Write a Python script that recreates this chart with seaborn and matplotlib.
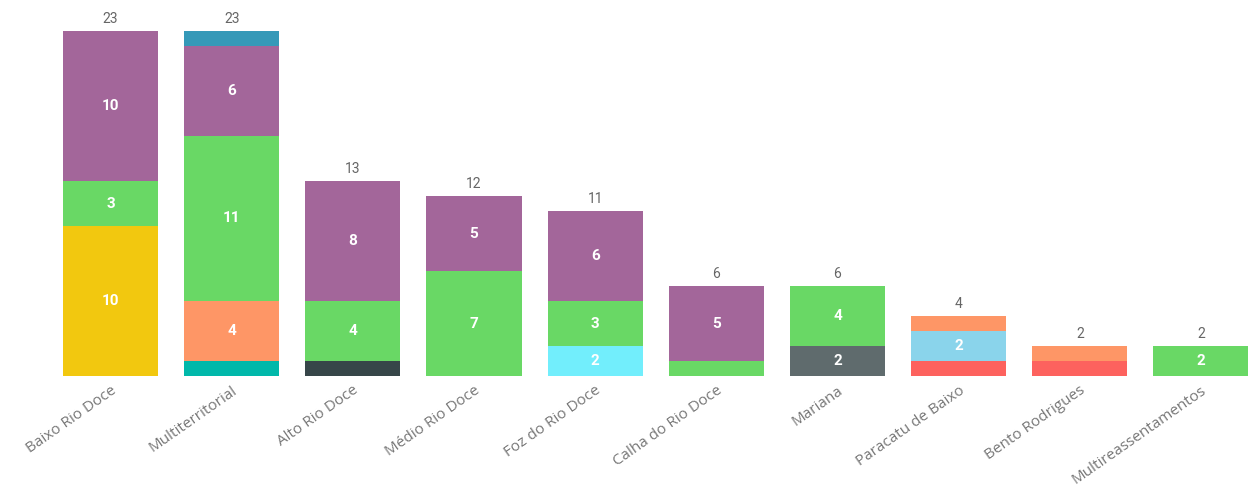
import numpy as np
import matplotlib
matplotlib.use("Agg")
import matplotlib.pyplot as plt
import seaborn as sns

# data
categories = ["Baixo Rio Doce", "Multiterritorial", "Alto Rio Doce", "Médio Rio Doce",
              "Foz do Rio Doce", "Calha do Rio Doce", "Mariana", "Paracatu de Baixo",
              "Bento Rodrigues", "Multireassentamentos"]

# stacked series, bottom to top
teal      = [0, 1, 0, 0, 0, 0, 0, 0, 0, 0]
dark      = [0, 0, 1, 0, 0, 0, 0, 0, 0, 0]
yellow    = [10, 0, 0, 0, 0, 0, 0, 0, 0, 0]
cyan      = [0, 0, 0, 0, 2, 0, 0, 0, 0, 0]
gray      = [0, 0, 0, 0, 0, 0, 2, 0, 0, 0]
red       = [0, 0, 0, 0, 0, 0, 0, 1, 1, 0]
lightblue = [0, 0, 0, 0, 0, 0, 0, 2, 0, 0]
orange    = [0, 4, 0, 0, 0, 0, 0, 1, 1, 0]
green     = [3, 11, 4, 7, 3, 1, 4, 0, 0, 2]
purple    = [10, 6, 8, 5, 6, 5, 0, 0, 0, 0]
blue      = [0, 1, 0, 0, 0, 0, 0, 0, 0, 0]

series = [teal, dark, yellow, cyan, gray, red, lightblue, orange, green, purple, blue]
colors = ["#01B8AA", "#374649", "#F2C80F", "#72EEFC", "#5F6B6D", "#FD625E",
          "#8AD4EB", "#FE9666", "#69D865", "#A3669A", "#3599B8"]

sns.set_style("white")

fig = plt.figure(figsize=(12.53, 4.86), dpi=100)
ax = fig.add_axes([50 / 1253, 110 / 486, 1203 / 1253, 367.5 / 486])

vals = np.array(series, dtype=float)
cum = vals.cumsum(axis=0)

# draw cumulative tops from the top series down so they overlap into stacks
for i in range(len(series) - 1, -1, -1):
    sns.barplot(x=categories, y=cum[i], color=colors[i], width=0.785,
                saturation=1, linewidth=0, ax=ax, order=categories)

bottoms = cum - vals
for i in range(len(series)):
    for j in range(len(categories)):
        v = vals[i, j]
        if v >= 2:
            ax.text(j, bottoms[i, j] + v / 2, f"{int(v)}", ha="center", va="center",
                    color="white", fontsize=11, fontweight="bold", family="Roboto")

totals = cum[-1]
for j, t in enumerate(totals):
    ax.text(j, t + 0.35, f"{int(t)}", ha="center", va="bottom",
            color="#666666", fontsize=10, family="Roboto")

ax.set_xlim(-0.5, 9.43)
ax.set_ylim(0, 24.5)
ax.set_xlabel("")
ax.set_ylabel("")
ax.set_yticks([])
ax.tick_params(axis="x", length=0, pad=5)
ax.set_xticks(range(len(categories)))
ax.set_xticklabels(categories, rotation=35, ha="right", va="top", rotation_mode="anchor",
                   color="#777777", fontsize=11, family="Open Sans")
sns.despine(ax=ax, left=True, bottom=True)

fig.savefig("out.png", dpi=100, facecolor="white")
